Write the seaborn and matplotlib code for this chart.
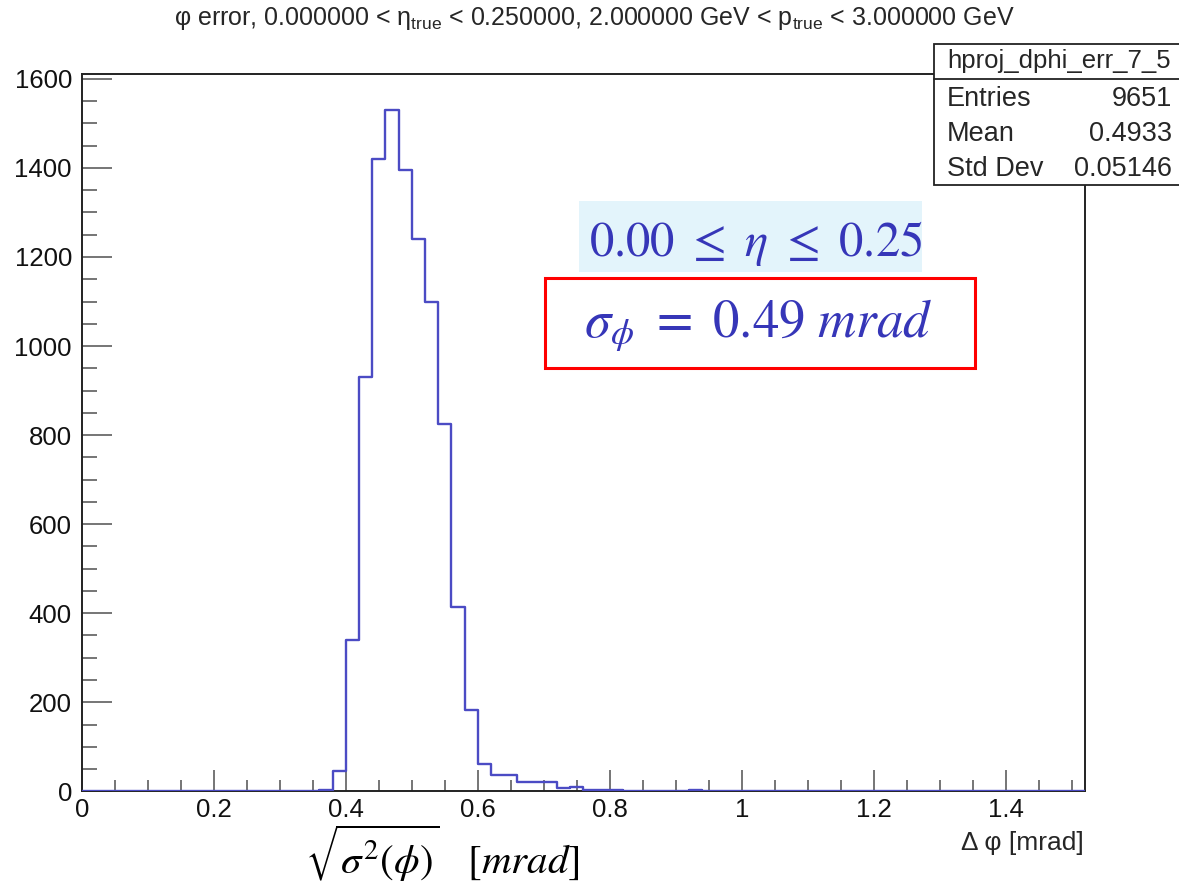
import numpy as np
import pandas as pd
import matplotlib
matplotlib.use("Agg")
import matplotlib.pyplot as plt
import seaborn as sns
from matplotlib.patches import Rectangle
from matplotlib.lines import Line2D
from matplotlib.ticker import MultipleLocator

# ---- histogram content: 76 bins of 0.02 mrad between 0 and 1.52 mrad ----
bin_width = 0.02
n_bins = 76
first_filled_bin = 18          # bin [0.36, 0.38)
filled_counts = [2, 45, 340, 930, 1420, 1530, 1395, 1240, 1100, 826, 414, 183,
                 61, 37, 37, 20, 20, 20, 7, 10, 4, 2, 2, 1, 0, 1, 1, 0, 2, 1]

x_ticks = [0, 0.2, 0.4, 0.6, 0.8, 1.0, 1.2, 1.4]
x_tick_labels = ["0", "0.2", "0.4", "0.6", "0.8", "1", "1.2", "1.4"]
y_ticks = [0, 200, 400, 600, 800, 1000, 1200, 1400, 1600]
y_tick_labels = ["0", "200", "400", "600", "800", "1000", "1200", "1400", "1600"]

title_text = (r"φ error, 0.000000 < $\mathregular{η_{true}}$ < 0.250000, "
              r"2.000000 GeV < $\mathregular{p_{true}}$ < 3.000000 GeV")
x_axis_title = "Δ φ [mrad]"
stats_name = "hproj_dphi_err_7_5"
stats_labels = ["Entries", "Mean", "Std Dev"]
stats_values = ["9651", "0.4933", "0.05146"]

eta_range_text = r"$0.00\ \leq\ \eta\ \leq\ 0.25$"
resolution_text = r"$\sigma_{\phi}\ =\ 0.49\ mrad$"
bottom_label = r"$\sqrt{\sigma^2(\phi)}\ \ \ [mrad]$"

hist_color = "#4b4bc4"
note_color = "#3636b8"

# ---- style ----
sns.set_style("white")
plt.rcParams["font.family"] = ["Liberation Sans", "DejaVu Sans"]

W, H = 1179, 883
fig = plt.figure(figsize=(W / 100, H / 100), dpi=100)


def fx(px):
    return px / W


def fy(py):
    return 1 - py / H


ax_left, ax_right, ax_top, ax_bottom = 81.7, 1085, 74, 791.3
ax = fig.add_axes([fx(ax_left), fy(ax_bottom),
                   (ax_right - ax_left) / W, (ax_bottom - ax_top) / H])

counts = [0] * first_filled_bin + filled_counts
counts = counts + [0] * (n_bins - len(counts))
edges = [round(i * bin_width, 2) for i in range(n_bins + 1)]
centers = [(a + b) / 2 for a, b in zip(edges[:-1], edges[1:])]
hist_df = pd.DataFrame({"dphi": centers, "entries": counts})

sns.histplot(data=hist_df, x="dphi", weights="entries", bins=edges, element="step",
             fill=False, color=hist_color, linewidth=1.7, ax=ax, zorder=3)

ax.set_xlim(0, 1.52)
ax.set_ylim(0, 1611)
ax.set_xlabel("")
ax.set_ylabel("")

for side in ["left", "bottom", "top", "right"]:
    ax.spines[side].set_visible(True)
    ax.spines[side].set_color("#222222")
    ax.spines[side].set_linewidth(1.4)

ax.set_xticks(x_ticks, x_tick_labels)
ax.set_yticks(y_ticks, y_tick_labels)
ax.xaxis.set_minor_locator(MultipleLocator(0.05))
ax.yaxis.set_minor_locator(MultipleLocator(50))
ax.tick_params(axis="both", which="both", direction="in", bottom=True, left=True,
               top=False, right=False, colors="#6a6a6a", labelcolor="#111111",
               width=1.3, labelsize=18.5)
ax.tick_params(axis="y", which="major", length=21.6, pad=7)
ax.tick_params(axis="y", which="minor", length=10.8)
ax.tick_params(axis="x", which="major", length=15, pad=5)
ax.tick_params(axis="x", which="minor", length=7.9)

# ---- titles ----
fig.text(fx(594), fy(18), title_text, ha="center", va="center", fontsize=18)
fig.text(fx(1084), fy(843), x_axis_title, ha="right", va="center", fontsize=19)

# ---- statistics box ----
sb_l, sb_t, sb_r, sb_b = 934, 44, 1184, 185
fig.add_artist(Rectangle((fx(sb_l), fy(sb_b)), (sb_r - sb_l) / W, (sb_b - sb_t) / H,
                         transform=fig.transFigure, facecolor="white",
                         edgecolor="#222222", linewidth=1.3, zorder=5))
fig.add_artist(Line2D([fx(sb_l), fx(sb_r)], [fy(79), fy(79)],
                      transform=fig.transFigure, color="#222222", linewidth=1.3, zorder=6))
fig.text(fx(1059), fy(61), stats_name, ha="center", va="center", fontsize=18.5, zorder=7)
for i, (lab, val) in enumerate(zip(stats_labels, stats_values)):
    yy = fy(99 + 35 * i)
    fig.text(fx(947), yy, lab, ha="left", va="center", fontsize=19.5, zorder=7)
    fig.text(fx(1172), yy, val, ha="right", va="center", fontsize=19.5, zorder=7)

# ---- annotations ----
fig.add_artist(Rectangle((fx(579), fy(272)), (922 - 579) / W, (272 - 201) / H,
                         transform=fig.transFigure, facecolor="#e3f4fb",
                         edgecolor="none", zorder=4))
fig.text(fx(756), fy(244), eta_range_text, ha="center", va="center", fontsize=35,
         color=note_color, math_fontfamily="stix", zorder=6)

fig.add_artist(Rectangle((fx(545), fy(368)), (975 - 545) / W, (368 - 278) / H,
                         transform=fig.transFigure, facecolor="white",
                         edgecolor="#ff0000", linewidth=2.2, zorder=4))
fig.text(fx(758), fy(325), resolution_text, ha="center", va="center", fontsize=38,
         color=note_color, math_fontfamily="stix", zorder=6)

fig.text(fx(442), fy(853), bottom_label, ha="center", va="center", fontsize=29.5,
         color="black", math_fontfamily="stix")

fig.savefig("out.png", dpi=100)
